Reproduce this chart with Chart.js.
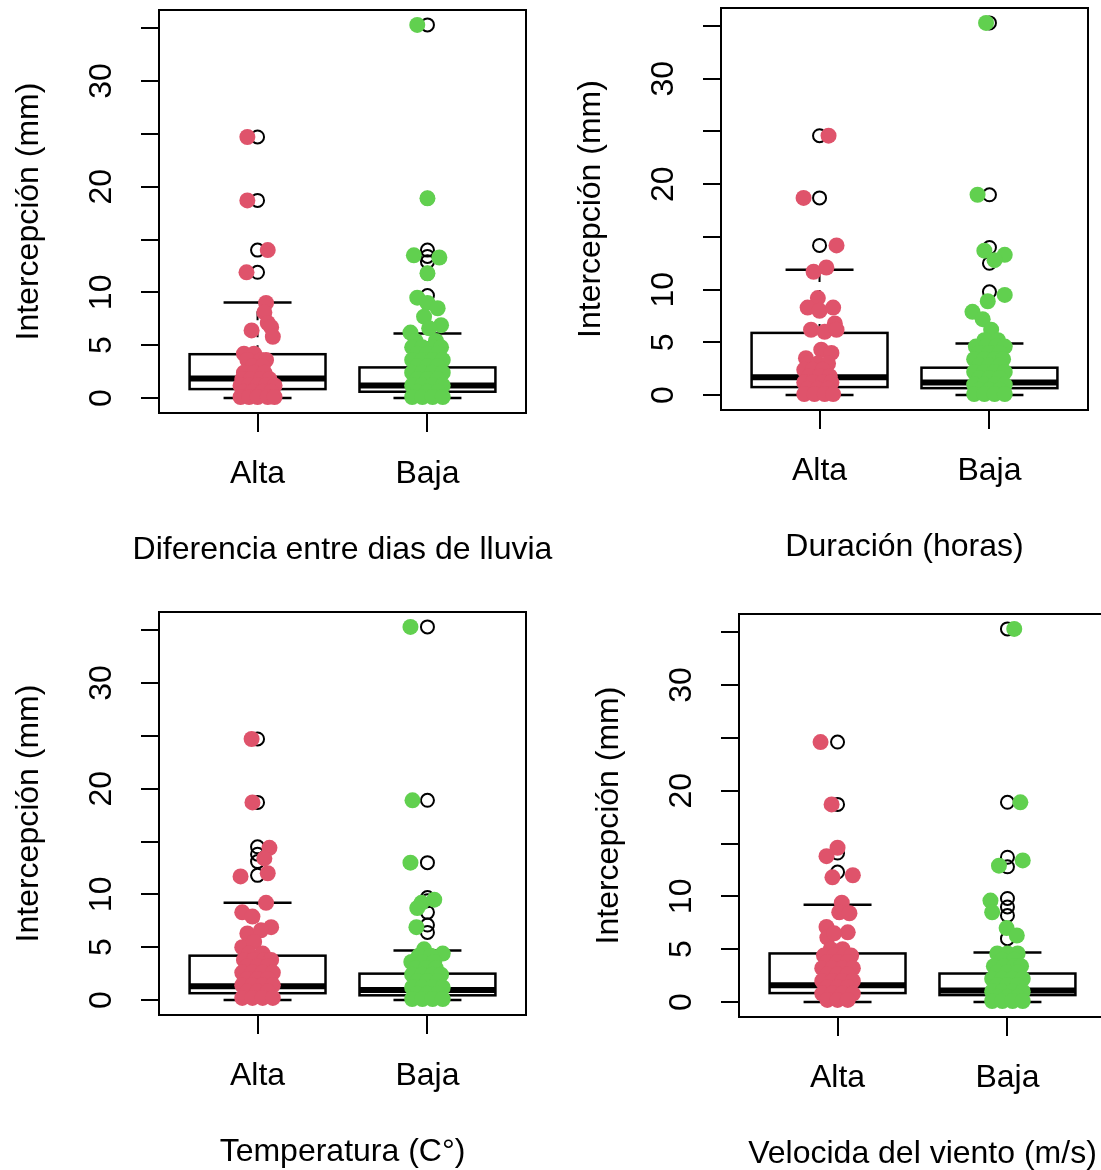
<!DOCTYPE html>
<html>
<head>
<meta charset="utf-8">
<script src="https://cdn.jsdelivr.net/npm/chart.js@4.4.1/dist/chart.umd.min.js"></script>
<style>
html,body{margin:0;padding:0;background:#fff;overflow:hidden;width:1101px;height:1170px;}
.panel{position:absolute;}
canvas{display:block;}
</style>
</head>
<body>
<div id="p0" class="panel"><canvas id="c0"></canvas></div>
<div id="p1" class="panel"><canvas id="c1"></canvas></div>
<div id="p2" class="panel"><canvas id="c2"></canvas></div>
<div id="p3" class="panel"><canvas id="c3"></canvas></div>
<script>
// ---------------- DATA ----------------
const categories = ['Alta', 'Baja'];
const yTickValues = [0, 5, 10, 15, 20, 25, 30, 35];
const yTickLabels = ['0', '5', '10', '', '20', '', '30', ''];
const yTitle = 'Intercepción (mm)';
const xTitles = ['Diferencia entre dias de lluvia', 'Duración (horas)', 'Temperatura (C°)', 'Velocida del viento (m/s)'];

// box statistics per group: [lower whisker, Q1, median, Q3, upper whisker]
const boxDiferencia = [[0, 0.85, 1.85, 4.15, 9.05], [0, 0.6, 1.2, 2.9, 6.1]];
const boxDuracion = [[0, 0.76, 1.7, 5.9, 11.9], [0, 0.66, 1.2, 2.6, 4.9]];
const boxTemperatura = [[0, 0.65, 1.3, 4.2, 9.2], [0, 0.45, 0.95, 2.5, 4.7]];
const boxViento = [[0, 0.85, 1.6, 4.6, 9.2], [0, 0.66, 1.1, 2.7, 4.7]];

// boxplot outliers (open circles at the group position)
const outDiferenciaAlta = [24.7, 18.7, 14.0, 11.9];
const outDiferenciaBaja = [35.3, 18.9, 14.0, 13.4, 12.9, 11.8, 9.7];
const outDuracionAlta = [24.6, 18.7, 14.2];
const outDuracionBaja = [35.3, 19.0, 14.0, 12.5, 9.8];
const outTemperaturaAlta = [24.7, 18.7, 14.5, 13.8, 13.1, 11.8];
const outTemperaturaBaja = [35.3, 18.9, 13.0, 9.7, 9.4, 8.3, 7.1, 6.4];
const outVientoAlta = [24.6, 18.7, 14.1, 12.3];
const outVientoBaja = [35.3, 18.9, 13.7, 12.8, 9.8, 9.0, 8.2, 6.0];

// jittered observations: [jitter offset from group, interception value]
const ptsDiferenciaAlta = [[-0.06,24.7],[-0.06,18.7],[0.06,14.0],[-0.065,11.9],
 [0.05,9.0],[0.04,8.1],[0.06,7.1],[-0.035,6.4],[0.08,6.7],[0.09,5.8],
 [-0.08,4.2],[-0.02,4.2],[-0.06,3.6],[0.02,3.6],[0.05,3.6],[-0.03,3.0],[0.03,3.0],
 [-0.08,2.4],[-0.02,2.4],[0.04,2.4],[-0.09,1.8],[-0.04,1.8],[0.02,1.8],[0.07,1.8],
 [-0.1,1.2],[-0.05,1.2],[0,1.2],[0.05,1.2],[0.1,1.2],[-0.08,0.6],[-0.03,0.6],[0.03,0.6],[0.08,0.6],
 [-0.1,0.1],[-0.05,0.1],[0,0.1],[0.06,0.1],[0.1,0.1]];
const ptsDiferenciaBaja = [[-0.06,35.3],[0,18.9],[-0.08,13.5],[0.07,13.3],[0,11.8],
 [-0.06,9.5],[0,9.0],[0.06,8.5],[-0.02,7.7],[0.08,6.9],[0.01,6.6],[-0.1,6.2],
 [-0.07,5.4],[0.05,5.4],[-0.09,4.8],[-0.03,4.8],[0.03,4.8],[0.08,4.8],[-0.06,4.2],[0,4.2],[0.06,4.2],
 [-0.09,3.6],[-0.03,3.6],[0.03,3.6],[0.09,3.6],[-0.06,3.0],[0,3.0],[0.06,3.0],
 [-0.09,2.4],[-0.03,2.4],[0.03,2.4],[0.09,2.4],[-0.06,1.8],[0,1.8],[0.06,1.8],
 [-0.09,1.2],[-0.03,1.2],[0.03,1.2],[0.09,1.2],[-0.06,0.6],[0,0.6],[0.06,0.6],
 [-0.09,0.1],[-0.03,0.1],[0.03,0.1],[0.09,0.1]];
const ptsDuracionAlta = [[0.053,24.6],[-0.094,18.7],[0.1,14.2],[-0.035,11.7],[0.04,12.1],
 [-0.01,9.2],[-0.07,8.3],[0,8.0],[0.08,8.3],[0.09,6.8],[-0.05,6.2],[0.03,6.0],[0.1,6.2],
 [0.01,4.3],[0.07,4.0],[-0.08,3.5],
 [-0.07,3.0],[-0.01,3.0],[0.05,3.0],[-0.09,2.4],[-0.04,2.4],[0.02,2.4],
 [-0.06,1.8],[0,1.8],[0.06,1.8],[-0.09,1.2],[-0.04,1.2],[0.02,1.2],[0.07,1.2],
 [-0.07,0.6],[-0.01,0.6],[0.05,0.6],[-0.09,0.1],[-0.03,0.1],[0.03,0.1],[0.08,0.1]];
const ptsDuracionBaja = [[-0.02,35.3],[-0.07,19.0],[-0.03,13.7],[0.09,13.3],[0.03,12.8],
 [0.09,9.5],[-0.01,8.9],[-0.1,7.9],[-0.04,7.2],[0.01,6.2],
 [-0.03,5.2],[0.05,5.2],[-0.08,4.6],[-0.02,4.6],[0.04,4.6],[0.09,4.6],[-0.06,4.0],[0,4.0],[0.06,4.0],
 [-0.09,3.4],[-0.03,3.4],[0.03,3.4],[0.08,3.4],[-0.06,2.8],[0,2.8],[0.06,2.8],
 [-0.09,2.2],[-0.03,2.2],[0.03,2.2],[0.09,2.2],[-0.06,1.6],[0,1.6],[0.06,1.6],
 [-0.09,1.0],[-0.03,1.0],[0.03,1.0],[0.09,1.0],[-0.06,0.5],[0,0.5],[0.06,0.5],
 [-0.09,0.1],[-0.03,0.1],[0.03,0.1],[0.09,0.1]];
const ptsTemperaturaAlta = [[-0.035,24.7],[-0.03,18.7],[0.07,14.4],[0.04,13.4],[-0.1,11.7],[0.06,12.0],
 [0.05,9.2],[-0.09,8.3],[-0.03,7.9],[0.08,6.9],[-0.06,6.3],[0.02,6.6],[-0.09,5.0],[-0.02,5.5],
 [-0.05,4.4],[0.03,4.4],[-0.08,3.8],[-0.02,3.8],[0.04,3.8],[0.08,3.8],[-0.06,3.2],[0,3.2],[0.06,3.2],
 [-0.09,2.6],[-0.03,2.6],[0.03,2.6],[0.09,2.6],[-0.06,2.0],[0,2.0],[0.06,2.0],
 [-0.09,1.4],[-0.03,1.4],[0.03,1.4],[0.09,1.4],[-0.06,0.8],[0,0.8],[0.06,0.8],
 [-0.09,0.2],[-0.03,0.2],[0.03,0.2],[0.09,0.2]];
const ptsTemperaturaBaja = [[-0.1,35.3],[-0.088,18.9],[-0.1,13.0],[-0.035,9.2],[0.04,9.5],[-0.06,8.7],[-0.065,6.9],[0.09,4.4],[-0.095,3.6],
 [-0.02,4.8],[-0.05,4.2],[0.02,4.2],[-0.03,3.6],[0.04,3.6],[-0.07,3.0],[-0.01,3.0],[0.05,3.0],
 [-0.09,2.4],[-0.03,2.4],[0.03,2.4],[0.08,2.4],[-0.06,1.8],[0,1.8],[0.06,1.8],
 [-0.09,1.2],[-0.03,1.2],[0.03,1.2],[0.09,1.2],[-0.06,0.6],[0,0.6],[0.06,0.6],
 [-0.09,0.1],[-0.03,0.1],[0.03,0.1],[0.09,0.1]];
const ptsVientoAlta = [[-0.1,24.6],[-0.035,18.7],[0,14.6],[-0.065,13.8],[-0.03,11.8],[0.09,12.0],
 [0.025,9.4],[0.01,8.5],[0.07,8.4],[-0.065,7.1],[0.06,6.6],[-0.06,6.1],[-0.02,6.5],
 [-0.04,5.0],[0.03,5.0],[-0.08,4.4],[-0.02,4.4],[0.04,4.4],[0.08,4.4],[-0.06,3.8],[0,3.8],[0.06,3.8],
 [-0.09,3.2],[-0.03,3.2],[0.03,3.2],[0.09,3.2],[-0.06,2.6],[0,2.6],[0.06,2.6],
 [-0.09,2.0],[-0.03,2.0],[0.03,2.0],[0.09,2.0],[-0.06,1.4],[0,1.4],[0.06,1.4],
 [-0.09,0.8],[-0.03,0.8],[0.03,0.8],[0.09,0.8],[-0.06,0.2],[0,0.2],[0.06,0.2]];
const ptsVientoBaja = [[0.04,35.3],[0.076,18.9],[0.09,13.4],[-0.05,12.9],[-0.1,9.6],[-0.09,8.5],[-0.005,7.0],[0.055,6.3],
 [-0.06,4.6],[0,4.6],[0.06,4.6],[-0.03,4.0],[0.04,4.0],[-0.08,3.4],[-0.02,3.4],[0.04,3.4],[0.08,3.4],
 [-0.06,2.8],[0,2.8],[0.06,2.8],[-0.09,2.2],[-0.03,2.2],[0.03,2.2],[0.09,2.2],
 [-0.06,1.6],[0,1.6],[0.06,1.6],[-0.09,1.0],[-0.03,1.0],[0.03,1.0],[0.09,1.0],
 [-0.06,0.5],[0,0.5],[0.06,0.5],[-0.09,0.1],[-0.03,0.1],[0.03,0.1],[0.09,0.1]];

// ---------------- STYLE / LAYOUT ----------------
const groupColors = ['#DF536B', '#61D04F'];
const frames = [
  {left: 159, top: 10, w: 367, h: 403},
  {left: 721, top: 8, w: 367, h: 402},
  {left: 159, top: 612, w: 367, h: 403},
  {left: 739, top: 614, w: 367, h: 403}
];
const panels = [
  {title: xTitles[0], box: boxDiferencia, pts: [ptsDiferenciaAlta, ptsDiferenciaBaja], out: [outDiferenciaAlta, outDiferenciaBaja]},
  {title: xTitles[1], box: boxDuracion, pts: [ptsDuracionAlta, ptsDuracionBaja], out: [outDuracionAlta, outDuracionBaja]},
  {title: xTitles[2], box: boxTemperatura, pts: [ptsTemperaturaAlta, ptsTemperaturaBaja], out: [outTemperaturaAlta, outTemperaturaBaja]},
  {title: xTitles[3], box: boxViento, pts: [ptsVientoAlta, ptsVientoBaja], out: [outVientoAlta, outVientoBaja]}
];
const FONT = {family: "'Liberation Sans', Arial, Helvetica, sans-serif", size: 32, lineHeight: 1.2, weight: 'normal'};
const BOX_HALF = 0.4, CAP_HALF = 0.2;
const SIDE = 160, PAD_T = 10, BOTTOM = 160;
const TITLE_PAD_B = 4;

Chart.defaults.font.family = FONT.family;
Chart.defaults.color = '#000';

function boxPlugin(stats) {
  return {
    id: 'rbox',
    beforeDatasetsDraw(chart) {
      const {ctx, chartArea, scales} = chart;
      const xs = scales.x, ys = scales.y;
      const line = (x1, y1, x2, y2) => { ctx.beginPath(); ctx.moveTo(x1, y1); ctx.lineTo(x2, y2); ctx.stroke(); };
      ctx.save();
      ctx.strokeStyle = '#000';
      ctx.lineCap = 'butt';
      stats.forEach((s, g) => {
        const [lw, q1, med, q3, uw] = s;
        const pos = g + 1;
        const cx = xs.getPixelForValue(pos);
        const bl = xs.getPixelForValue(pos - BOX_HALF), br = xs.getPixelForValue(pos + BOX_HALF);
        const sl = xs.getPixelForValue(pos - CAP_HALF), sr = xs.getPixelForValue(pos + CAP_HALF);
        const yq1 = ys.getPixelForValue(q1), yq3 = ys.getPixelForValue(q3);
        // whiskers (dashed)
        ctx.lineWidth = 2; ctx.setLineDash([9, 8]);
        line(cx, yq3, cx, ys.getPixelForValue(uw));
        line(cx, yq1, cx, ys.getPixelForValue(lw));
        ctx.setLineDash([]);
        // staples
        ctx.lineWidth = 2.5;
        line(sl, ys.getPixelForValue(uw), sr, ys.getPixelForValue(uw));
        line(sl, ys.getPixelForValue(lw), sr, ys.getPixelForValue(lw));
        // box
        ctx.fillStyle = '#fff';
        ctx.fillRect(bl, yq3, br - bl, yq1 - yq3);
        ctx.strokeRect(bl, yq3, br - bl, yq1 - yq3);
        // median
        ctx.lineWidth = 6;
        line(bl, ys.getPixelForValue(med), br, ys.getPixelForValue(med));
      });
      ctx.lineWidth = 2;
      ctx.strokeRect(chartArea.left, chartArea.top, chartArea.right - chartArea.left, chartArea.bottom - chartArea.top);
      ctx.restore();
    }
  };
}

function makeChart(idx) {
  const P = panels[idx], L = frames[idx];
  const wrap = document.getElementById('p' + idx);
  wrap.style.left = (L.left - SIDE) + 'px';
  wrap.style.top = (L.top - PAD_T) + 'px';
  const cv = document.getElementById('c' + idx);
  const W = L.w + 2 * SIDE, H = L.h + PAD_T + BOTTOM;
  cv.width = W; cv.height = H;
  cv.style.width = W + 'px'; cv.style.height = H + 'px';

  const allVals = [];
  P.pts.forEach(arr => arr.forEach(p => allVals.push(p[1])));
  P.out.forEach(arr => arr.forEach(v => allVals.push(v)));
  P.box.forEach(b => b.forEach(v => allVals.push(v)));
  const lo = Math.min(...allVals), hi = Math.max(...allVals);
  const ext = (hi - lo) * 0.04;
  const n = categories.length;

  const datasets = [];
  categories.forEach((cat, g) => {
    datasets.push({
      label: cat,
      data: P.pts[g].map(([dx, v]) => ({x: g + 1 + dx, y: v})),
      backgroundColor: groupColors[g], borderColor: groupColors[g], borderWidth: 0,
      pointRadius: 8, pointHoverRadius: 8, order: 0
    });
  });
  categories.forEach((cat, g) => {
    datasets.push({
      label: cat + ' atípicos',
      data: P.out[g].map(v => ({x: g + 1, y: v})),
      backgroundColor: 'rgba(0,0,0,0)', borderColor: '#000', borderWidth: 2,
      pointRadius: 6.5, pointHoverRadius: 6.5, order: 1
    });
  });

  const gridOpts = (tl) => ({drawOnChartArea: false, drawTicks: true, tickLength: tl, tickWidth: 2, tickColor: '#000', color: '#000', lineWidth: 2});
  const titleBoxH = FONT.size * FONT.lineHeight + TITLE_PAD_B;

  new Chart(cv, {
    type: 'scatter',
    data: {datasets},
    options: {
      responsive: false, animation: false, devicePixelRatio: 1, events: [],
      layout: {padding: {left: 0, top: PAD_T, right: 0, bottom: 0}},
      plugins: {
        legend: {display: false}, tooltip: {enabled: false},
        title: {display: true, position: 'bottom', text: P.title, color: '#000', font: FONT, padding: {top: 0, bottom: TITLE_PAD_B}}
      },
      scales: {
        x: {
          type: 'linear', bounds: 'data',
          min: 0.5 - 0.04 * n, max: n + 0.5 + 0.04 * n,
          afterBuildTicks: s => { s.ticks = categories.map((c, i) => ({value: i + 1})); },
          afterFit: s => { s.height = BOTTOM - titleBoxH; s.paddingLeft = 0; s.paddingRight = 0; },
          ticks: {callback: (v, i) => categories[i], color: '#000', font: FONT, padding: 22.8, autoSkip: false, minRotation: 0, maxRotation: 0},
          grid: gridOpts(19),
          border: {display: true, color: '#000', width: 2}
        },
        y: {
          type: 'linear', bounds: 'data',
          min: lo - ext, max: hi + ext,
          afterBuildTicks: s => { s.ticks = yTickValues.map(v => ({value: v})); },
          afterFit: s => { s.width = SIDE; s.paddingTop = 0; s.paddingBottom = 0; },
          ticks: {callback: (v, i) => yTickLabels[i], color: '#000', font: FONT, padding: 21.2, autoSkip: false, minRotation: 90, maxRotation: 90, crossAlign: 'center'},
          grid: gridOpts(18),
          border: {display: true, color: '#000', width: 2},
          title: {display: true, text: yTitle, color: '#000', font: FONT, padding: {top: 10.8, bottom: 0}}
        },
        yRight: {
          type: 'linear', position: 'right', display: true,
          ticks: {display: false}, grid: {display: false}, border: {display: false},
          afterFit: s => { s.width = SIDE; s.paddingTop = 0; s.paddingBottom = 0; }
        }
      }
    },
    plugins: [boxPlugin(P.box)]
  });
}

for (let i = 0; i < panels.length; i++) makeChart(i);
</script>
</body>
</html>
